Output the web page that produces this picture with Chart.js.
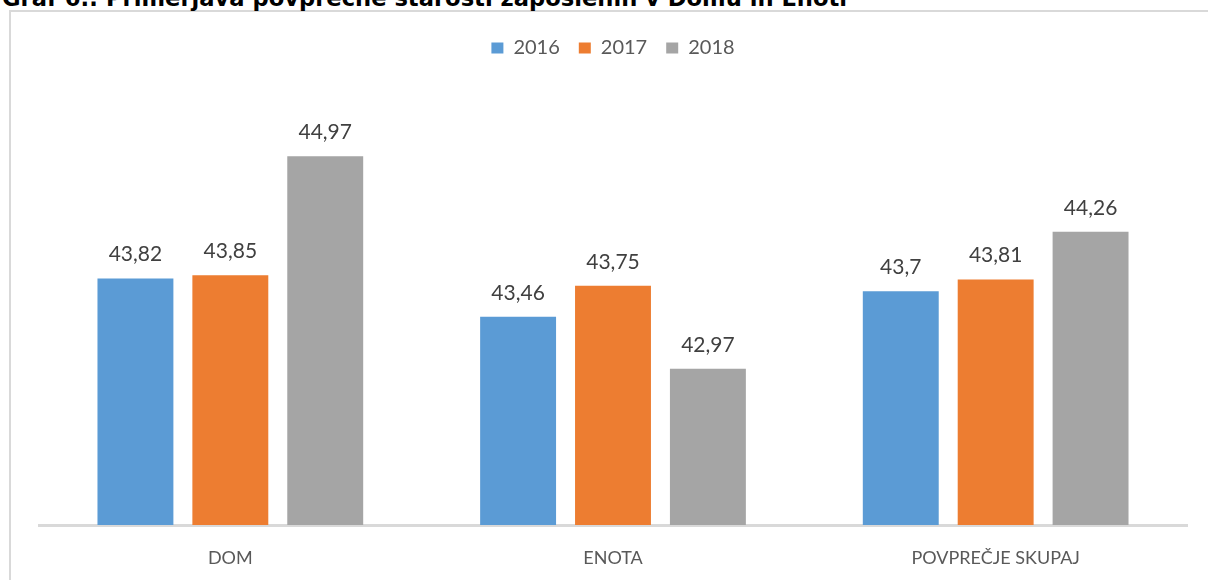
<!DOCTYPE html>
<html>
<head>
<meta charset="utf-8">
<script src="https://cdn.jsdelivr.net/npm/chart.js@4"></script>
<style>
  html, body { margin: 0; padding: 0; background: #ffffff; }
  body { width: 1208px; height: 580px; position: relative; overflow: hidden; }
  #frame { position: absolute; left: 9px; top: 10px; width: 1300px; height: 700px;
           border-left: 2px solid #d9d9d9; border-top: 2px solid #d9d9d9; box-sizing: border-box; }
  #title { position: absolute; left: 2px; white-space: nowrap; font-family: "DejaVu Sans", Verdana, sans-serif;
           font-weight: bold; color: #000; line-height: 1; }
  #wrap { position: absolute; left: 0; top: 0; width: 1208px; height: 580px; }
</style>
</head>
<body>
<div id="frame"></div>
<div id="title">Graf 6.: Primerjava povprečne starosti zaposlenih v Domu in Enoti</div>
<div id="wrap"><canvas id="c" width="1208" height="580"></canvas></div>
<script>
// ---- data ----
const categories = ["DOM", "ENOTA", "POVPREČJE SKUPAJ"];
const seriesNames = ["2016", "2017", "2018"];
const values2016 = [43.82, 43.46, 43.7];
const values2017 = [43.85, 43.75, 43.81];
const values2018 = [44.97, 42.97, 44.26];
const seriesColors = ["#5B9BD5", "#ED7D31", "#A5A5A5"];

// ---- title sizing (fit to target width, baseline near y=6) ----
(function () {
  const t = document.getElementById('title');
  const mc = document.createElement('canvas').getContext('2d');
  mc.font = "bold 20px 'DejaVu Sans'";
  const w = mc.measureText(t.textContent).width;
  const F = 20 * 846 / w;
  t.style.fontSize = F + 'px';
  // DejaVu: ascent .928, descent .236 -> baseline at top + 0.846F with line-height 1
  t.style.top = (6 - 0.846 * F) + 'px';
})();

const valueLabels = {
  id: 'valueLabels',
  afterDatasetsDraw(chart) {
    const ctx = chart.ctx;
    ctx.save();
    ctx.font = "21px Lato";
    ctx.fillStyle = "#404040";
    ctx.textAlign = "center";
    ctx.textBaseline = "alphabetic";
    chart.data.datasets.forEach((ds, i) => {
      const meta = chart.getDatasetMeta(i);
      meta.data.forEach((bar, j) => {
        const txt = String(ds.data[j]).replace('.', ',');
        ctx.fillText(txt, bar.x, bar.y - 17);
      });
    });
    ctx.restore();
  }
};

new Chart(document.getElementById('c'), {
  type: 'bar',
  data: {
    labels: categories,
    datasets: [
      { label: seriesNames[0], data: values2016, backgroundColor: seriesColors[0] },
      { label: seriesNames[1], data: values2017, backgroundColor: seriesColors[1] },
      { label: seriesNames[2], data: values2018, backgroundColor: seriesColors[2] }
    ]
  },
  options: {
    responsive: false,
    animation: false,
    devicePixelRatio: 1,
    categoryPercentage: 0.744,
    barPercentage: 0.8,
    layout: { padding: { left: 39, right: 21, top: 19, bottom: 0 } },
    plugins: {
      legend: {
        position: 'top',
        labels: { boxWidth: 12, boxHeight: 11, padding: 19, color: '#595959', font: { family: 'Lato', size: 20 } }
      },
      tooltip: { enabled: false }
    },
    scales: {
      x: {
        grid: { display: false, drawTicks: false },
        border: { display: true, color: '#d9d9d9', width: 3 },
        ticks: { color: '#595959', font: { family: 'Lato', size: 18 }, padding: 22 },
        afterFit(scale) { scale.height = 55; }
      },
      y: {
        display: false,
        min: 41.5,
        max: 45.8
      }
    }
  },
  plugins: [valueLabels]
});
</script>
</body>
</html>
